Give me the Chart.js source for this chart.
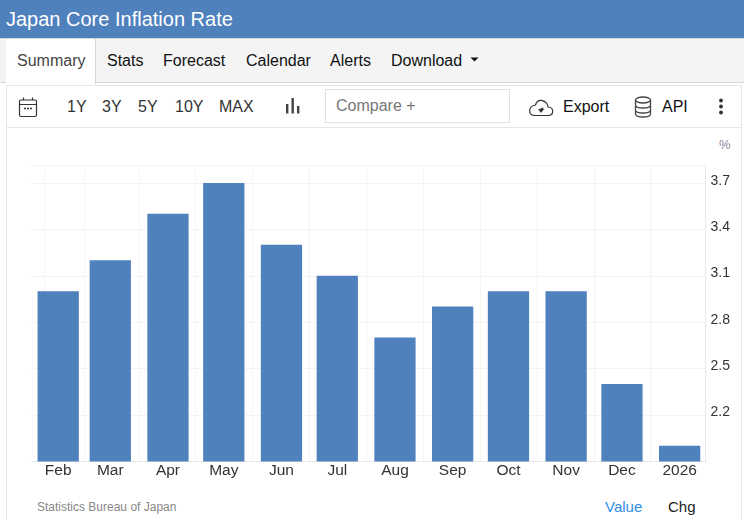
<!DOCTYPE html>
<html><head><meta charset="utf-8">
<script src="https://cdn.jsdelivr.net/npm/chart.js@4"></script>
<style>
html,body{margin:0;padding:0;background:#fff;width:744px;height:520px;overflow:hidden;font-family:"Liberation Sans",Arial,sans-serif;color:#222}
.a{position:absolute;white-space:nowrap}
#head{left:0;top:0;width:744px;height:38px;background:#4f81bd;color:#fff;font-size:20px;line-height:38px;text-indent:6px}
#tabs{left:0;top:38px;width:744px;height:45px;background:#f4f4f4;border-top:1px solid #d8d8d8;border-bottom:1px solid #d5d5d5;box-sizing:border-box}
#sum{left:6px;top:39px;width:90px;height:45px;background:#fff;border-right:1px solid #d5d5d5;box-sizing:border-box}
.t{font-size:16px;line-height:20px;top:51px;color:#111}
.r{font-size:16px;line-height:20px;top:97px;color:#333}
#panel{left:6px;top:85px;width:736px;height:435px;border:1px solid #e6e6e6;border-bottom:0;box-sizing:border-box}
#bar{left:7px;top:127px;width:734px;height:1px;background:#e6e6e6}
#cmp{left:325px;top:89px;width:185px;height:34px;border:1px solid #e2e2da;box-sizing:border-box;font-size:16px;line-height:32px;padding-left:10px;color:#777}
canvas{position:absolute;left:0;top:128px}
</style></head><body>
<div class="a" id="head">Japan Core Inflation Rate</div>
<div class="a" id="tabs"></div>
<div class="a" id="panel"></div>
<div class="a" id="sum"></div>
<div class="a" id="bar"></div>
<div class="a t" style="left:17px;color:#444">Summary</div>
<div class="a t" style="left:107px">Stats</div>
<div class="a t" style="left:163px">Forecast</div>
<div class="a t" style="left:246px">Calendar</div>
<div class="a t" style="left:330px">Alerts</div>
<div class="a t" style="left:391px">Download</div>
<svg class="a" style="left:470px;top:57px" width="10" height="6"><path d="M0.5 0.5H8.5L4.5 4.5Z" fill="#111"/></svg>
<svg class="a" style="left:18px;top:96px" width="20" height="22" fill="none" stroke="#333" stroke-width="1.2"><rect x="1.5" y="4" width="17" height="16.5" rx="1.5"/><path d="M1.5 8.5H18.5M5.5 1.5V4M14.5 1.5V4"/><path d="M6 12.5H8M9 12.5H11M12 12.5H14" stroke-width="1.4"/></svg>
<div class="a r" style="left:67px">1Y</div>
<div class="a r" style="left:102px">3Y</div>
<div class="a r" style="left:138px">5Y</div>
<div class="a r" style="left:175px">10Y</div>
<div class="a r" style="left:219px">MAX</div>
<svg class="a" style="left:285px;top:98px" width="16" height="16" fill="#444"><rect x="1" y="6" width="2.4" height="9.5"/><rect x="6.5" y="0" width="2.4" height="15.5"/><rect x="12" y="8" width="2.4" height="7.5"/></svg>
<div class="a" id="cmp">Compare +</div>
<svg class="a" style="left:528px;top:98px" width="26" height="19" fill="none" stroke="#333" stroke-width="1.2"><path d="M6 17.5H20C26 17.5 26.5 9.5 20 9C19 1.5 9.5 0 7.5 7C0 8 0 17 6 17.5Z"/><path d="M11 11.5H15V9.5M13 10V14M10.5 11.5L13 14.5L15.5 11.5Z" fill="#333" stroke-width=".6"/></svg>
<div class="a t" style="left:563px;top:97px">Export</div>
<svg class="a" style="left:634px;top:96px" width="19" height="22" fill="none" stroke="#444" stroke-width="1.3"><ellipse cx="9" cy="4" rx="7.5" ry="3"/><path d="M1.5 4V18C1.5 22 16.5 22 16.5 18V4M1.5 9C1.5 13 16.5 13 16.5 9M1.5 14C1.5 18 16.5 18 16.5 14"/></svg>
<div class="a t" style="left:662px;top:97px">API</div>
<svg class="a" style="left:718px;top:98px" width="6" height="17" fill="#333"><circle cx="3" cy="2.5" r="1.9"/><circle cx="3" cy="8.5" r="1.9"/><circle cx="3" cy="14.5" r="1.9"/></svg>
<div class="a" style="left:719px;top:137px;font-size:13px;line-height:15px;color:#8a8a9a">%</div>
<div class="a" style="left:37px;top:500px;font-size:12px;line-height:15px;color:#888">Statistics Bureau of Japan</div>
<div class="a" style="left:605px;top:498px;font-size:15px;line-height:18px;color:#2d8fe8">Value</div>
<div class="a" style="left:668px;top:498px;font-size:15px;line-height:18px;color:#222">Chg</div>
<canvas id="c" width="741" height="392"></canvas>
<script>
const categories = ["Feb","Mar","Apr","May","Jun","Jul","Aug","Sep","Oct","Nov","Dec","2026"];
const dates = ["2025-02-01","2025-03-01","2025-04-01","2025-05-01","2025-06-01","2025-07-01","2025-08-01","2025-09-01","2025-10-01","2025-11-01","2025-12-01","2026-01-01"];
const values = [3.0,3.2,3.5,3.7,3.3,3.1,2.7,2.9,3.0,3.0,2.4,2.0];
const yTicks = [2.2,2.5,2.8,3.1,3.4,3.7];
const yMin = 1.9, yMax = 3.815;
const barColor = "#4f81bd";

const dayMs = 86400000;
const days = dates.map(d => Date.parse(d) / dayMs);
const xMin = days[0] - 14.35, xMax = days[days.length - 1] + 13.9;
const grid = "#f4f4f4", edge = "#e8e8e8", ink = "#333";

new Chart(document.getElementById("c"), {
  type: "bar",
  data: { datasets: [{
    data: days.map((d, i) => ({ x: d, y: values[i] })),
    backgroundColor: barColor, barThickness: 40.6, borderWidth: 0
  }]},
  options: {
    responsive: false, animation: false,
    layout: { padding: { left: 31.5, top: 37.5, right: 0, bottom: 0 } },
    plugins: { legend: { display: false }, tooltip: { enabled: false } },
    scales: {
      x: {
        type: "linear", min: xMin, max: xMax, offset: false,
        afterBuildTicks: s => { s.ticks = [xMin, ...days].map(v => ({ value: v })); },
        afterFit: s => { s.height = 58.5; },
        grid: { color: grid, drawTicks: false, lineWidth: 1 },
        border: { color: edge },
        ticks: {
          autoSkip: false, maxRotation: 0, padding: 0,
          font: { family: '"Liberation Sans",Arial,sans-serif', size: 15.5 }, color: ink,
          callback: v => { const i = days.indexOf(v); return i < 0 ? "" : categories[i]; }
        }
      },
      y: {
        position: "right", min: yMin, max: yMax,
        afterBuildTicks: s => { s.ticks = [yMin, ...yTicks, yMax].map(v => ({ value: v })); },
        afterFit: s => { s.width = 35.5; },
        grid: { color: grid, drawTicks: false, lineWidth: 1 },
        border: { color: edge },
        ticks: {
          padding: 5, labelOffset: -2.5,
          font: { family: '"Liberation Sans",Arial,sans-serif', size: 14 }, color: ink,
          callback: v => yTicks.includes(v) ? v.toFixed(1) : ""
        }
      }
    }
  }
});
</script>
</body></html>
